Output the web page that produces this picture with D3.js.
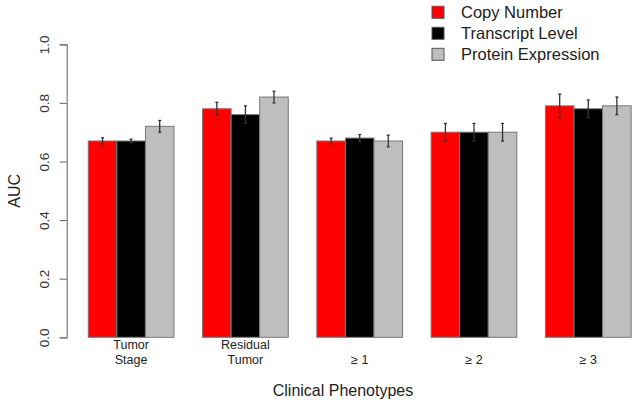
<!DOCTYPE html>
<html><head><meta charset="utf-8">
<script src="https://cdn.jsdelivr.net/npm/d3@7"></script>
<style>body{margin:0;background:#fff}svg{display:block;font-family:"Liberation Sans",Arial,sans-serif}</style>
</head><body><svg id="c" width="636" height="403"></svg>
<script>
const categories = [["Tumor","Stage"],["Residual","Tumor"],["","\u2265 1"],["","\u2265 2"],["","\u2265 3"]];
const seriesNames = ["Copy Number","Transcript Level","Protein Expression"];
const seriesColors = ["#ff0000","#000000","#bebebe"];
const copyNumber = [0.67,0.78,0.67,0.70,0.79];
const transcriptLevel = [0.67,0.76,0.68,0.70,0.78];
const proteinExpression = [0.72,0.82,0.67,0.70,0.79];
const copyNumberErr = [0.011,0.022,0.01,0.03,0.04];
const transcriptLevelErr = [0.006,0.03,0.012,0.03,0.03];
const proteinExpressionErr = [0.02,0.02,0.02,0.03,0.03];
const yTicks = [0,0.2,0.4,0.6,0.8,1.0];

const values = [copyNumber, transcriptLevel, proteinExpression];
const errs = [copyNumberErr, transcriptLevelErr, proteinExpressionErr];

const svg = d3.select("#c");
const y = d3.scaleLinear().domain([0,1]).range([337.3,44.3]);
const xg = d3.scaleBand().domain(d3.range(categories.length)).range([59.7,659.7]).paddingInner(0.25).paddingOuter(0.25);
const xs = d3.scaleBand().domain(d3.range(3)).range([0,xg.bandwidth()]);

// y axis
const ax = svg.append("g").attr("transform","translate(66.7,0)")
  .call(d3.axisLeft(y).tickValues(yTicks).tickSize(7).tickFormat(d3.format(".1f")));
ax.attr("font-family",null);
ax.select(".domain").attr("stroke","#777").attr("stroke-width",1.2);
ax.selectAll(".tick line").attr("stroke","#777").attr("stroke-width",1.2);
ax.selectAll(".tick text").each(function(){
  d3.select(this).attr("x",null).attr("y",null).attr("dy",null)
   .attr("transform","translate(-18,0) rotate(-90)").attr("text-anchor","middle")
   .attr("font-size",13.5).attr("fill","#333");
});

svg.append("text").attr("transform","translate(19.5,"+y(0.5)+") rotate(-90)")
  .attr("text-anchor","middle").attr("font-size",16).attr("fill","#222").text("AUC");

// bars
categories.forEach((c,i)=>{
  const g = svg.append("g").attr("transform","translate("+xg(i)+",0)");
  values.forEach((vals,s)=>{
    g.append("rect").attr("x",xs(s)).attr("width",xs.bandwidth())
      .attr("y",y(vals[i])).attr("height",y(0)-y(vals[i]))
      .attr("fill",seriesColors[s]).attr("stroke","#777").attr("stroke-width",1);
  });
  values.forEach((vals,s)=>{
    const cx = xs(s)+xs.bandwidth()/2, e=errs[s][i];
    const y1=y(vals[i]+e), y2=y(vals[i]-e);
    g.append("line").attr("x1",cx).attr("x2",cx).attr("y1",y1).attr("y2",y2).attr("stroke","#333").attr("stroke-width",1.3);
    [y1,y2].forEach(yy=>g.append("line").attr("x1",cx-1.5).attr("x2",cx+1.5).attr("y1",yy).attr("y2",yy).attr("stroke","#333").attr("stroke-width",1.3));
  });
  const cx = xg(i)+xg.bandwidth()/2;
  c.forEach((line,k)=>{
    if(line) svg.append("text").attr("x",cx).attr("y",349.3+k*14.5).attr("text-anchor","middle")
      .attr("font-size",12.5).attr("fill","#222").text(line);
  });
});

svg.append("text").attr("x",343).attr("y",395.5).attr("text-anchor","middle")
  .attr("font-size",16).attr("fill","#222").text("Clinical Phenotypes");

// legend
seriesNames.forEach((n,s)=>{
  const cy = 12.3 + s*21;
  svg.append("rect").attr("x",432).attr("y",cy-6).attr("width",12).attr("height",12)
    .attr("fill",seriesColors[s]).attr("stroke","#555").attr("stroke-width",1);
  svg.append("text").attr("x",461).attr("y",cy+6).attr("font-size",16.5).attr("fill","#222").text(n);
});
</script></body></html>
